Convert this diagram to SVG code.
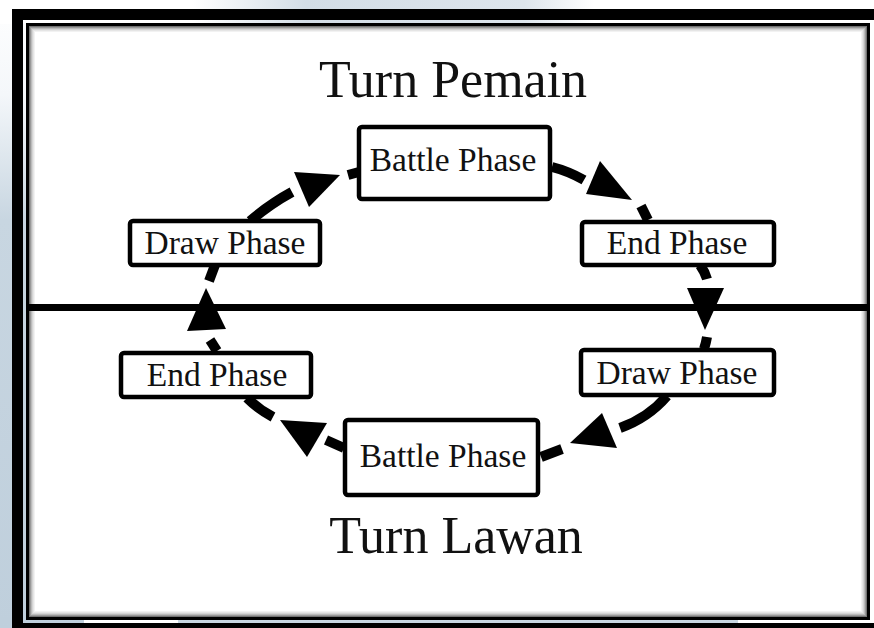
<svg xmlns="http://www.w3.org/2000/svg" width="874" height="628" viewBox="0 0 874 628">
<defs>
<linearGradient id="leftbg" x1="0" y1="0" x2="0" y2="1">
<stop offset="0" stop-color="#ffffff"/>
<stop offset="0.15" stop-color="#f4f7fa"/>
<stop offset="0.35" stop-color="#c8d6e1"/>
<stop offset="1" stop-color="#bfcfdc"/>
</linearGradient>
<linearGradient id="topbg" x1="0" y1="0" x2="1" y2="0">
<stop offset="0" stop-color="#ffffff"/>
<stop offset="0.22" stop-color="#ffffff"/>
<stop offset="0.35" stop-color="#d3dde6"/>
<stop offset="0.6" stop-color="#dde5ec"/>
<stop offset="0.68" stop-color="#ffffff"/>
<stop offset="1" stop-color="#ffffff"/>
</linearGradient>
</defs>
<style>
.box{fill:#ffffff;stroke:#000000;stroke-width:4.5}
.lbl{font-family:"Liberation Serif","Times New Roman",serif;font-size:33.5px;fill:#111111;text-anchor:middle}
.title{font-family:"Liberation Serif","Times New Roman",serif;font-size:52px;fill:#111111;text-anchor:middle}
.seg{fill:none;stroke:#000000;stroke-width:10;stroke-linecap:butt}
.head{fill:#000000}
</style>
<!-- background -->
<rect x="0" y="0" width="874" height="628" fill="#ffffff"/>
<rect x="0" y="0" width="27" height="628" fill="url(#leftbg)"/>
<rect x="0" y="0" width="874" height="24" fill="url(#topbg)"/>
<rect x="0" y="618" width="84" height="6" fill="#bfcfdc"/>
<rect x="178" y="618" width="560" height="6" fill="#c8d6e1"/>
<!-- outer thick frame -->
<rect x="17.5" y="14.5" width="880" height="614" fill="none" stroke="#000000" stroke-width="11"/>
<!-- inner panel -->
<rect x="27.5" y="24.5" width="841" height="594" fill="#ffffff" stroke="#000000" stroke-width="3"/>
<g fill="none">
<rect x="29.5" y="26.5" width="837" height="590" stroke="#000000" stroke-opacity="0.55" stroke-width="1"/>
<rect x="30.5" y="27.5" width="835" height="588" stroke="#000000" stroke-opacity="0.4" stroke-width="1"/>
<rect x="31.5" y="28.5" width="833" height="586" stroke="#000000" stroke-opacity="0.27" stroke-width="1"/>
<rect x="32.5" y="29.5" width="831" height="584" stroke="#000000" stroke-opacity="0.17" stroke-width="1"/>
<rect x="33.5" y="30.5" width="829" height="582" stroke="#000000" stroke-opacity="0.1" stroke-width="1"/>
<rect x="34.5" y="31.5" width="827" height="580" stroke="#000000" stroke-opacity="0.05" stroke-width="1"/>
</g>
<!-- divider -->
<line x1="29" y1="307.5" x2="867" y2="307.5" stroke="#000000" stroke-width="7"/>
<!-- titles -->
<text class="title" x="453" y="97">Turn Pemain</text>
<text class="title" x="456" y="553">Turn Lawan</text>
<!-- connectors -->
<g id="connectors">
<path class="seg" d="M250,221 Q270,204 292,192"/>
<polygon class="head" points="340,175 294,172 309,207"/>
<path class="seg" d="M348,175 L359,172"/>
<path class="seg" d="M552,167 Q568,171 584,180"/>
<polygon class="head" points="632,200 600,161 586,194"/>
<path class="seg" d="M641,206 L648,220"/>
<path class="seg" d="M700,265 Q705,272 707,279"/>
<polygon class="head" points="705,330 687,288 724,288"/>
<path class="seg" d="M707,337 Q706,343 704,349"/>
<path class="seg" d="M667,396 Q648,418 620,428"/>
<polygon class="head" points="570,443 602,413 617,448"/>
<path class="seg" d="M562,449 L541,457"/>
<path class="seg" d="M344,448 L326,440"/>
<polygon class="head" points="280,420 327,423 307,457"/>
<path class="seg" d="M273,417 Q258,409 247,398"/>
<path class="seg" d="M217,351 L210,340"/>
<polygon class="head" points="206,288 187,331 226,329"/>
<path class="seg" d="M209,281 L215,265"/>
</g>
<!-- nodes -->
<g id="battle-top">
<rect class="box" x="359" y="127" width="191" height="72" rx="3"/>
<text class="lbl" x="453" y="171">Battle Phase</text>
</g>
<g id="draw-top">
<rect class="box" x="130" y="221" width="190" height="44" rx="3"/>
<text class="lbl" x="225" y="254">Draw Phase</text>
</g>
<g id="end-top">
<rect class="box" x="582" y="222" width="192" height="43" rx="3"/>
<text class="lbl" x="677" y="254">End Phase</text>
</g>
<g id="end-bottom">
<rect class="box" x="121" y="353" width="190" height="44" rx="3"/>
<text class="lbl" x="217" y="386">End Phase</text>
</g>
<g id="draw-bottom">
<rect class="box" x="581" y="350" width="193" height="45" rx="3"/>
<text class="lbl" x="677" y="384">Draw Phase</text>
</g>
<g id="battle-bottom">
<rect class="box" x="345" y="420" width="193" height="75" rx="3"/>
<text class="lbl" x="443" y="467">Battle Phase</text>
</g>
</svg>
